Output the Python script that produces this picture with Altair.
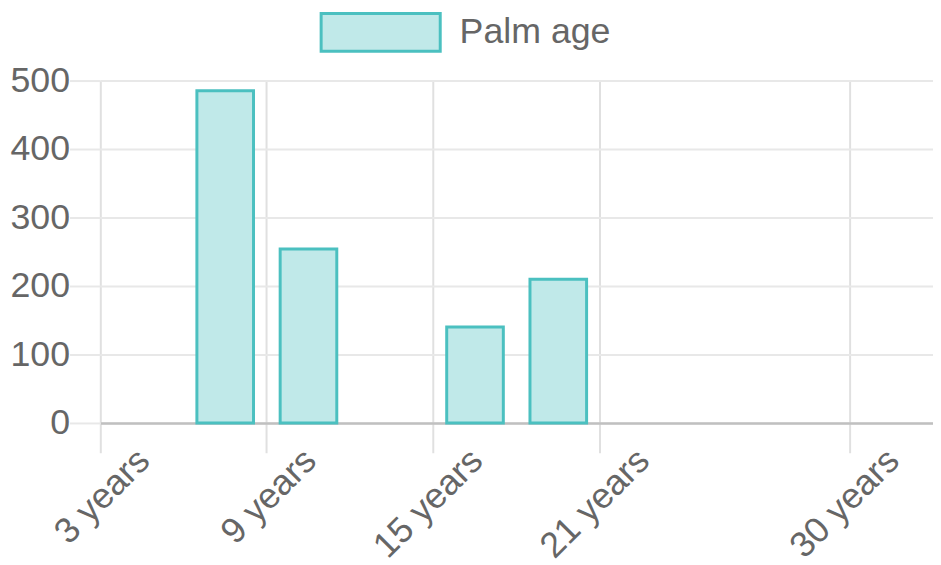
import altair as alt
import pandas as pd

categories = ["3 years", "6 years", "9 years", "12 years", "15 years",
              "18 years", "21 years", "24 years", "27 years", "30 years"]
counts = [0, 485, 254, 0, 140, 210, 0, 0, 0, 0]
tick_labels = ["3 years", "9 years", "15 years", "21 years", "30 years"]
y_ticks = [0, 100, 200, 300, 400, 500]
series_name = "Palm age"

df = pd.DataFrame({"age": categories, "count": counts,
                   "series": [series_name] * len(categories)})

FONT = "Liberation Sans"
FILL = "#c0e9e9"
EDGE = "#4bc0c0"
TXT = "#666666"

bars = alt.Chart(df).transform_filter("datum.count > 0").mark_bar(
    width=alt.RelativeBandSize(0.68), stroke=EDGE, strokeWidth=3, opacity=1
).encode(
    x=alt.X("age:N", sort=categories,
            scale=alt.Scale(domain=categories, paddingInner=0, paddingOuter=0),
            axis=alt.Axis(values=tick_labels, bandPosition=0, title=None,
                          labelAngle=-45, labelAlign="right", labelBaseline="middle",
                          labelOffset=2, labelPadding=2, labelOverlap=False,
                          labelBound=False, labelFlush=False,
                          tickSize=30, tickColor="#e0e0e0", tickWidth=2,
                          grid=True, gridColor="#e0e0e0", gridWidth=2,
                          domainColor="#c0c0c0", domainWidth=2.5,
                          labelFontSize=36, labelColor=TXT, labelFont=FONT)),
    y=alt.Y("count:Q", scale=alt.Scale(domain=[0, 500], nice=False),
            axis=alt.Axis(values=y_ticks, title=None, domain=False,
                          tickSize=31, tickColor="#e8e8e8", tickWidth=2,
                          labelPadding=0, gridColor="#e8e8e8", gridWidth=2,
                          labelFontSize=36, labelColor=TXT, labelFont=FONT)),
    color=alt.Color("series:N", scale=alt.Scale(range=[FILL]),
                    legend=alt.Legend(orient="none", legendX=221, legendY=-110,
                                      title=None,
                                      symbolType="M-1,-0.317L1,-0.317L1,0.317L-1,0.317Z",
                                      symbolSize=14400, symbolStrokeColor=EDGE,
                                      symbolStrokeWidth=3, symbolFillColor=FILL,
                                      symbolOpacity=1,
                                      labelFontSize=36, labelColor=TXT, labelFont=FONT,
                                      labelOffset=18))
)

chart = bars.properties(
    width=839, height=345,
    autosize=alt.AutoSizeParams(type="none"),
    padding={"left": 93, "top": 71, "right": 0, "bottom": 140},
).configure_view(stroke=None)

chart.save("out.html", embed_options={"renderer": "svg", "actions": False})
